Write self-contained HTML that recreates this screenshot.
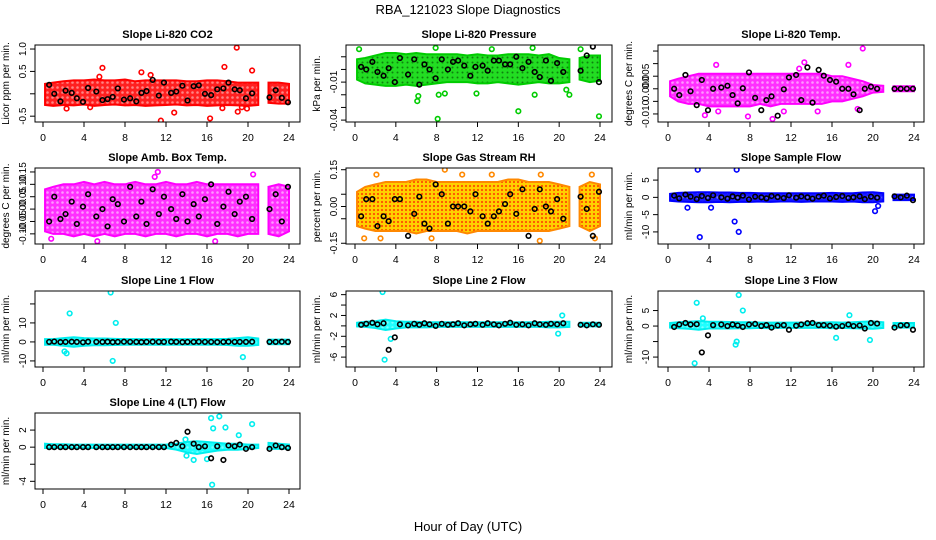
<!DOCTYPE html>
<html><head><meta charset="utf-8"><style>
body{margin:0;background:#fff;}
svg{display:block;font-family:"Liberation Sans",Arial,sans-serif;}
</style></head><body>
<svg id="chart" width="936" height="540" viewBox="0 0 936 540">
<defs>
<pattern id="p-red" width="5" height="5" patternUnits="userSpaceOnUse"><rect width="5" height="5" fill="#ff2020"/><circle cx="2.5" cy="2.5" r="1.3" fill="#fff" opacity="0.45"/></pattern>
<pattern id="p-green" width="5" height="5" patternUnits="userSpaceOnUse"><rect width="5" height="5" fill="#22dd22"/><circle cx="2.5" cy="2.5" r="1" fill="#004400" opacity="0.6"/></pattern>
<pattern id="p-magenta" width="5" height="5" patternUnits="userSpaceOnUse"><rect width="5" height="5" fill="#ff30ff"/><circle cx="2.5" cy="2.5" r="1.3" fill="#fff" opacity="0.5"/></pattern>
<pattern id="p-orange" width="4" height="4" patternUnits="userSpaceOnUse"><rect width="4" height="4" fill="#ffd000"/><circle cx="2" cy="2" r="1.1" fill="#ff3000" opacity="0.8"/></pattern>
<pattern id="p-blue" width="5" height="5" patternUnits="userSpaceOnUse"><rect width="5" height="5" fill="#1a1aff"/><circle cx="2.5" cy="2.5" r="1.2" fill="#fff" opacity="0.4"/></pattern>
<pattern id="p-cyan" width="5" height="5" patternUnits="userSpaceOnUse"><rect width="5" height="5" fill="#20ffff"/><circle cx="2.5" cy="2.5" r="1.2" fill="#fff" opacity="0.4"/></pattern>
</defs>
<text x="468" y="14" font-size="13" text-anchor="middle">RBA_121023  Slope Diagnostics</text>
<text x="468" y="531" font-size="13" text-anchor="middle">Hour of Day (UTC)</text>
<g id="panels"></g>
</svg>
<script>
// ---------- data ----------
const xTicks = [0,4,8,12,16,20,24];
const blackX = [0.6,1.1,1.7,2.2,2.8,3.3,3.9,4.4,5.2,5.8,6.3,6.8,7.3,7.9,8.5,9.1,9.6,10.1,10.7,11.3,11.8,12.5,13.0,13.6,14.1,14.7,15.2,15.8,16.4,17.0,17.6,18.1,18.7,19.2,19.8,20.4,22.1,22.7,23.3,23.9];

const titles = ["Slope Li-820 CO2","Slope Li-820 Pressure","Slope Li-820 Temp.","Slope Amb. Box Temp.","Slope Gas Stream RH","Slope Sample Flow","Slope Line 1 Flow","Slope Line 2 Flow","Slope Line 3 Flow","Slope Line 4 (LT) Flow"];
const yTitles = ["Licor ppm per min.","kPa per min.","degrees C per min.","degrees C per min.","percent per min.","ml/min per min.","ml/min per min.","ml/min per min.","ml/min per min.","ml/min per min."];

const yTicks1 = [-0.5,0,0.5,1.0];            const yLabels1 = ["-0.5","","0.5","1.0"];
const yTicks2 = [-0.04,-0.03,-0.02,-0.01,0,0.01];  const yLabels2 = ["-0.04","","","-0.01","",""];
const yTicks3 = [-0.01,-0.005,0,0.005,0.01,0.015]; const yLabels3 = ["-0.010","","0.000","0.005","",""];
const yTicks4 = [-0.1,-0.05,0,0.05,0.1,0.15]; const yLabels4 = ["-0.10","-0.05","0.00","0.05","0.10","0.15"];
const yTicks5 = [-0.15,-0.05,0,0.05,0.15];    const yLabels5 = ["-0.15","","0.00","","0.15"];
const yTicks6 = [-10,-5,0,5];                 const yLabels6 = ["-10","-5","0","5"];
const yTicks7 = [-10,0,10,20];                const yLabels7 = ["-10","0","10",""];
const yTicks8 = [-6,-4,-2,0,2,4,6];           const yLabels8 = ["-6","","-2","","2","","6"];
const yTicks9 = [-10,-5,0,5];                 const yLabels9 = ["-10","","0","5"];
const yTicks10 = [-4,-2,0,2];                 const yLabels10 = ["-4","","0","2"];

// band low/high per hour 0..24
const lo1 = [-0.25,-0.27,-0.25,-0.26,-0.24,-0.27,-0.25,-0.24,-0.26,-0.25,-0.27,-0.26,-0.25,-0.24,-0.26,-0.25,-0.27,-0.26,-0.25,-0.26,-0.27,-0.25,-0.2,-0.22,-0.22];
const hi1 = [0.22,0.25,0.28,0.3,0.3,0.32,0.3,0.3,0.32,0.28,0.3,0.3,0.3,0.3,0.28,0.28,0.3,0.3,0.28,0.25,0.25,0.25,0.25,0.25,0.22];
const lo2 = [-0.008,-0.011,-0.012,-0.013,-0.013,-0.012,-0.013,-0.012,-0.011,-0.01,-0.01,-0.01,-0.011,-0.011,-0.01,-0.011,-0.012,-0.011,-0.01,-0.011,-0.011,-0.01,-0.008,-0.01,-0.009];
const hi2 = [0.008,0.009,0.011,0.013,0.013,0.012,0.013,0.012,0.012,0.012,0.012,0.011,0.012,0.011,0.011,0.012,0.012,0.012,0.011,0.012,0.009,0.008,0.009,0.011,0.011];
const lo3 = [-0.003,-0.005,-0.006,-0.006,-0.007,-0.007,-0.007,-0.007,-0.007,-0.006,-0.007,-0.006,-0.006,-0.006,-0.006,-0.006,-0.005,-0.005,-0.004,-0.003,-0.0015,-0.0012,-0.001,-0.001,-0.001];
const hi3 = [0.003,0.004,0.005,0.006,0.006,0.006,0.006,0.006,0.006,0.006,0.006,0.006,0.006,0.006,0.006,0.006,0.005,0.005,0.004,0.003,0.0015,0.0012,0.001,0.001,0.001];
const lo4 = [-0.09,-0.1,-0.1,-0.11,-0.1,-0.11,-0.1,-0.11,-0.1,-0.1,-0.11,-0.1,-0.1,-0.11,-0.1,-0.1,-0.11,-0.1,-0.1,-0.11,-0.1,-0.1,-0.1,-0.11,-0.09];
const hi4 = [0.08,0.09,0.1,0.1,0.11,0.1,0.11,0.1,0.1,0.11,0.1,0.1,0.11,0.1,0.1,0.11,0.1,0.1,0.1,0.1,0.1,0.1,0.09,0.1,0.09];
const lo5 = [-0.08,-0.09,-0.1,-0.1,-0.1,-0.1,-0.11,-0.1,-0.1,-0.1,-0.1,-0.11,-0.1,-0.1,-0.1,-0.1,-0.1,-0.1,-0.1,-0.1,-0.09,-0.08,-0.08,-0.1,-0.08];
const hi5 = [0.06,0.08,0.09,0.1,0.1,0.1,0.11,0.11,0.1,0.1,0.1,0.1,0.1,0.1,0.1,0.11,0.11,0.1,0.1,0.1,0.09,0.08,0.08,0.1,0.09];
const lo6 = [-1,-1.2,-1.3,-1.4,-1.4,-1.3,-1.4,-1.3,-1.3,-1.2,-1.3,-1.2,-1.2,-1.3,-1.2,-1.2,-1.2,-1.3,-1.2,-1.4,-1.4,-1.2,-0.8,-0.8,-0.8];
const hi6 = [1,1.3,1.4,1.5,1.5,1.4,1.4,1.3,1.3,1.2,1.2,1.2,1.2,1.2,1.2,1.2,1.3,1.2,1.2,1.4,1.5,1.2,0.8,0.8,0.8];
const lo7 = [-1.5,-1.5,-2,-2.5,-2,-1.8,-1.8,-1.6,-1.5,-1.5,-1.5,-1.5,-1.5,-1.5,-1.5,-1.5,-1.5,-1.5,-1.6,-2,-2,-1.6,-1.2,-1.2,-1.2];
const hi7 = [1.5,1.5,2,2.5,2,1.8,1.8,1.6,1.5,1.5,1.5,1.5,1.5,1.5,1.5,1.5,1.5,1.5,1.6,2,2.5,1.8,1.2,1.2,1.2];
const lo8 = [-0.1,-0.2,-0.4,-0.8,-0.5,-0.3,-0.3,-0.3,-0.2,-0.2,-0.2,-0.2,-0.2,-0.2,-0.2,-0.2,-0.2,-0.2,-0.2,-0.3,-0.3,-0.2,-0.1,-0.1,-0.1];
const hi8 = [0.6,0.8,0.9,1.2,0.9,0.8,0.8,0.7,0.7,0.7,0.7,0.7,0.7,0.7,0.7,0.7,0.7,0.7,0.7,0.8,0.8,0.8,0.6,0.6,0.6];
const lo9 = [-0.5,-0.7,-0.9,-1.2,-0.8,-0.8,-0.8,-0.7,-0.7,-0.6,-0.7,-0.6,-0.6,-0.6,-0.6,-0.6,-0.7,-0.6,-0.7,-0.8,-0.9,-0.6,-0.5,-0.5,-0.5];
const hi9 = [1.0,1.2,1.4,1.6,1.4,1.4,1.3,1.2,1.2,1.1,1.1,1.1,1.1,1.1,1.1,1.1,1.2,1.1,1.2,1.4,1.5,1.2,1.0,1.0,1.0];
const lo10 = [-0.1,-0.1,-0.1,-0.1,-0.1,-0.1,-0.1,-0.1,-0.1,-0.1,-0.1,-0.1,-0.1,-0.3,-0.6,-0.8,-0.6,-0.4,-0.3,-0.3,-0.2,-0.1,-0.2,-0.2,-0.2];
const hi10 = [0.4,0.35,0.35,0.3,0.3,0.3,0.3,0.3,0.3,0.3,0.3,0.3,0.3,0.4,0.6,0.7,0.6,0.5,0.4,0.4,0.3,0.3,0.5,0.4,0.3];

// colored outliers
const ox1 = [5.8,9.6,10.5,11.5,12.8,16.3,17.7,18.9,19.0,19.4,19.9,20.4,2.3,4.6,5.5,17.5];
const oy1 = [0.58,0.48,0.42,-0.6,-0.42,-0.55,0.6,1.03,-0.4,-0.3,-0.33,0.52,-0.33,-0.3,0.38,-0.32];
const ox2 = [8.1,16.0,23.9,6.1,6.2,11.9,17.6,21.0,0.4,7.9,13.4,17.4,22.1,8.8,8.2,20.7];
const oy2 = [-0.039,-0.033,-0.037,-0.025,-0.021,-0.019,-0.02,-0.02,0.016,0.017,0.016,0.017,0.016,-0.019,-0.02,-0.016];
const ox3 = [19.0,17.6,13.3,7.8,10.2,3.6,4.9,11.3,14.6,4.7,12.8,18.5];
const oy3 = [0.016,0.0095,0.0105,-0.011,-0.012,-0.0105,-0.009,-0.009,-0.009,0.0095,0.008,-0.008];
const ox4 = [11.2,16.8,5.3,0.8,10.9,20.5];
const oy4 = [0.15,-0.13,-0.13,-0.12,0.13,0.14];
const ox5 = [2.1,8.8,10.5,13.4,18.2,23.2,0.9,2.5,7.5,18.1,23.5];
const oy5 = [0.13,0.15,0.13,0.13,0.13,0.13,-0.13,-0.13,-0.13,-0.14,-0.13];
const ox6 = [2.9,3.1,6.7,6.9,6.5,20.2,20.5,1.9,4.2];
const oy6 = [8,-11.5,8,-10,-7,-4,-2.5,-3,-3];
const ox7 = [2.6,2.3,6.6,6.8,7.1,19.5,2.1];
const oy7 = [15,-6,26,-10,10,-8,-5];
const ox8 = [2.7,2.9,3.5,20.3,19.9];
const oy8 = [6.5,-6.5,-2.5,2,-1.5];
const ox9 = [2.8,2.6,3.4,6.6,6.7,6.9,7.3,16.4,17.7,19.7];
const oy9 = [7.5,-12,2.5,-6,-5,10,5,-3.8,3.5,-4.5];
const ox10 = [16.4,16.6,17.2,17.8,20.4,14.0,14.7,16.0,19.1,16.5,13.9];
const oy10 = [3.4,2.2,3.6,2.3,2.7,-1.0,-1.5,-1.4,1.4,-4.4,0.9];

// black point values
const by1 = [0.2,0.0,-0.17,0.07,0.02,-0.1,-0.18,0.13,0.05,-0.14,-0.12,-0.07,0.12,-0.13,-0.1,-0.17,0.02,0.06,0.31,-0.04,0.25,0.02,0.05,0.18,-0.15,0.17,0.19,0.0,-0.03,0.1,0.12,0.25,0.1,0.08,-0.1,0.01,-0.08,0.08,-0.09,-0.19];
const by2 = [0.002,0.0,0.006,-0.002,-0.005,0.001,-0.01,0.009,-0.004,0.008,-0.012,0.004,0.0,-0.007,0.008,0.0,0.006,0.007,0.003,-0.005,0.002,0.003,-0.001,0.007,0.007,0.004,0.004,0.01,0.001,0.006,-0.002,-0.006,0.007,-0.009,0.005,-0.002,-0.001,0.011,0.018,-0.01];
const by3 = [0.0,-0.0025,0.0055,-0.001,-0.0065,0.0035,-0.0085,0.0,0.0005,0.0012,-0.0025,-0.0058,0.0002,0.0065,-0.0036,-0.0085,-0.0045,-0.003,-0.0107,-0.0002,0.0045,0.0055,-0.0045,0.0085,-0.0055,0.0075,0.0052,0.0035,0.0028,0.0,0.0,-0.0022,-0.0085,0.0,0.0008,0.0,0.0,0.0,0.0,0.0];
const by4 = [-0.05,0.05,-0.04,-0.02,0.03,-0.06,0.01,0.06,-0.03,0.0,-0.07,0.04,0.02,-0.05,0.09,-0.03,0.03,-0.06,0.08,-0.02,0.05,0.0,-0.04,0.06,-0.05,0.02,-0.03,0.04,0.1,-0.06,0.01,0.07,-0.02,0.03,0.05,-0.04,0.0,0.06,-0.05,0.09];
const by5 = [-0.04,0.03,0.03,-0.08,-0.04,-0.06,0.03,0.03,-0.12,-0.03,0.04,-0.07,-0.09,0.09,0.05,-0.07,0.0,0.0,0.0,-0.02,0.05,-0.04,-0.07,-0.04,-0.02,0.01,0.05,-0.03,0.07,-0.12,-0.01,0.07,0.0,-0.02,0.03,-0.05,0.04,-0.01,-0.12,0.06];
const by6 = [0.5,-0.3,0.8,0.2,-0.5,0.4,-0.2,0.6,0.0,-0.4,0.3,-0.1,0.5,-0.6,0.2,0.0,-0.3,0.4,0.1,-0.2,0.6,-0.1,0.3,0.0,-0.4,0.2,0.5,-0.3,0.1,0.4,-0.2,0.0,0.3,-0.5,0.2,-0.1,0.3,0.0,0.5,-0.8];
const by7 = [0,0.2,-0.1,0,0.1,0,-0.2,0.1,0,0,0.1,-0.1,0,0.1,0,0,-0.1,0,0.1,0,0,0.1,0,-0.1,0,0,0.1,0,0,-0.1,0,0.1,0,0,0,0.1,0,0,0.1,0];
const by8 = [0.2,0.4,0.6,0.3,0.5,-4.6,-2.2,0.3,0.1,0.4,0.2,0.5,0.3,0.0,0.4,0.2,0.3,0.5,0.1,0.3,0.4,0.2,0.5,0.3,0.1,0.4,0.6,0.2,0.3,0.1,0.5,0.3,0.2,0.4,0.3,0.5,0.2,0.1,0.3,0.2];
const by9 = [-0.3,0.5,1.0,0.5,0.6,-8.5,-3,0.3,0.5,0.0,0.5,0.2,-0.3,0.5,0.7,0.0,0.3,-0.5,0.2,0.3,-1.2,0.1,0.5,0.9,1.0,0.3,0.3,0.1,-0.2,0.0,0.5,0.0,0.2,-0.8,1.0,0.8,-0.5,0.2,0.3,-1.2];
const by10 = [0,0,0,0,0,0,0,0,0,0,0,0,0,0,0,0,0,0,0,0,0,0.3,0.5,0.1,1.8,0.4,0.0,0.1,-1.3,0.1,-1.5,0.2,0.1,0.3,-0.2,0.0,-0.2,0.2,0.0,-0.1];

// ---------- layout ----------
const colBox = [[35,300,43,289],[346,612,355,600],[658,924,668,914]];
const rowBox = [[45,122],[168,244],[291,367],[413,489]];
const panels = [
 {c:0,r:0,ymin:-0.63,ymax:1.09,yt:yTicks1,yl:yLabels1,lo:lo1,hi:hi1,ox:ox1,oy:oy1,by:by1,col:"#ff0000",pat:"p-red"},
 {c:1,r:0,ymin:-0.0415,ymax:0.0193,yt:yTicks2,yl:yLabels2,lo:lo2,hi:hi2,ox:ox2,oy:oy2,by:by2,col:"#00cc00",pat:"p-green"},
 {c:2,r:0,ymin:-0.0132,ymax:0.0174,yt:yTicks3,yl:yLabels3,lo:lo3,hi:hi3,ox:ox3,oy:oy3,by:by3,col:"#ff00ff",pat:"p-magenta"},
 {c:0,r:1,ymin:-0.141,ymax:0.166,yt:yTicks4,yl:yLabels4,lo:lo4,hi:hi4,ox:ox4,oy:oy4,by:by4,col:"#ff00ff",pat:"p-magenta"},
 {c:1,r:1,ymin:-0.153,ymax:0.157,yt:yTicks5,yl:yLabels5,lo:lo5,hi:hi5,ox:ox5,oy:oy5,by:by5,col:"#ff8800",pat:"p-orange"},
 {c:2,r:1,ymin:-13.5,ymax:8.5,yt:yTicks6,yl:yLabels6,lo:lo6,hi:hi6,ox:ox6,oy:oy6,by:by6,col:"#0000ff",pat:"p-blue"},
 {c:0,r:2,ymin:-13.2,ymax:26.8,yt:yTicks7,yl:yLabels7,lo:lo7,hi:hi7,ox:ox7,oy:oy7,by:by7,col:"#00eeee",pat:"p-cyan"},
 {c:1,r:2,ymin:-7.9,ymax:6.7,yt:yTicks8,yl:yLabels8,lo:lo8,hi:hi8,ox:ox8,oy:oy8,by:by8,col:"#00eeee",pat:"p-cyan"},
 {c:2,r:2,ymin:-13.2,ymax:11.3,yt:yTicks9,yl:yLabels9,lo:lo9,hi:hi9,ox:ox9,oy:oy9,by:by9,col:"#00eeee",pat:"p-cyan"},
 {c:0,r:3,ymin:-4.9,ymax:4.0,yt:yTicks10,yl:yLabels10,lo:lo10,hi:hi10,ox:ox10,oy:oy10,by:by10,col:"#00eeee",pat:"p-cyan"}
];
const segs = [[0.2,21],[22,24]];

const NS="http://www.w3.org/2000/svg";
const root=document.getElementById('panels');
function mk(tag,attrs,parent){const e=document.createElementNS(NS,tag);for(const k in attrs)e.setAttribute(k,attrs[k]);parent.appendChild(e);return e;}

panels.forEach((p,i)=>{
  const [bl,br,x0,x24]=colBox[p.c]; const [bt,bb]=rowBox[p.r];
  const xs=h=>x0+(x24-x0)*h/24;
  const ys=v=>bb-(v-p.ymin)/(p.ymax-p.ymin)*(bb-bt);
  const g=mk('g',{},root);
  
  
  const cid='clip'+i;
  const cp=mk('clipPath',{id:cid},g); mk('rect',{x:bl,y:bt,width:br-bl,height:bb-bt},cp);
  const plot=mk('g',{'clip-path':'url(#'+cid+')'},g);
  segs.forEach(([a,b])=>{
    const top=[],bot=[];
    const hs=[a]; for(let h=Math.ceil(a);h<=Math.floor(b);h++) if(h>a) hs.push(h); if(hs[hs.length-1]<b) hs.push(b);
    hs.forEach(h=>{const k=Math.min(24,Math.round(h));top.push(xs(h)+','+ys(p.hi[k]).toFixed(1));bot.unshift(xs(h)+','+ys(p.lo[k]).toFixed(1));});
    const poly=mk('polygon',{points:top.concat(bot).join(' '),fill:'url(#'+p.pat+')',stroke:p.col,'stroke-width':2},plot);
    
    
  });
  p.ox.forEach((h,j)=>{
    const c=mk('circle',{cx:xs(h),cy:ys(p.oy[j]),r:2.3,fill:'none',stroke:p.col,'stroke-width':1.6},plot);
    
    
  });
  blackX.forEach((h,j)=>{
    if(j>=p.by.length)return;
    const c=mk('circle',{cx:xs(h),cy:ys(p.by[j]),r:2.3,fill:'none',stroke:'#000','stroke-width':1.6},plot);
    
    
  });
  const box=mk('rect',{x:bl,y:bt,width:br-bl,height:bb-bt,fill:'none',stroke:'#000','stroke-width':1},g);
  
  
  const t=mk('text',{x:(bl+br)/2,y:bt-7,'font-size':11,'font-weight':'bold','text-anchor':'middle'},g);
  t.textContent=titles[i];
  
  
  xTicks.forEach(v=>{
    const x=xs(v);
    mk('line',{x1:x,x2:x,y1:bb,y2:bb+5,stroke:'#000'},g);
    const l=mk('text',{x:x,y:bb+19,'font-size':10.5,'text-anchor':'middle'},g);
    l.textContent=v;
    
    
  });
  mk('line',{x1:x0,x2:x24,y1:bb,y2:bb,stroke:'#000'},g);
  p.yt.forEach((v,k)=>{
    const y=ys(v);
    mk('line',{x1:bl-5,x2:bl,y1:y,y2:y,stroke:'#000'},g);
    if(p.yl[k]){
      const l=mk('text',{x:bl-9,y:y,'font-size':10,'text-anchor':'middle',transform:'rotate(-90 '+(bl-9)+' '+y+')'},g);
      l.textContent=p.yl[k];
      
      
    }
  });
  const yt=mk('text',{x:bl-26,y:(bt+bb)/2,'font-size':10,'text-anchor':'middle',transform:'rotate(-90 '+(bl-26)+' '+((bt+bb)/2)+')'},g);
  yt.textContent=yTitles[i];
  
  
});
</script>
</body></html>
